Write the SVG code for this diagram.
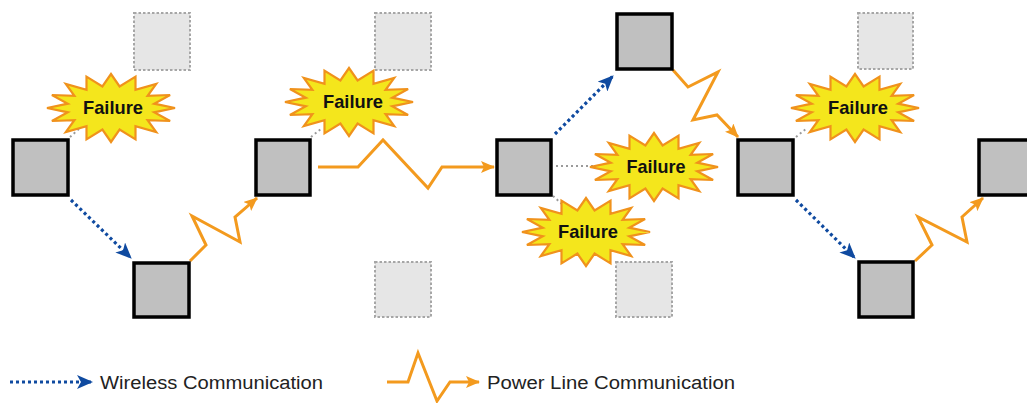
<svg xmlns="http://www.w3.org/2000/svg" width="1027" height="403" viewBox="0 0 1027 403">
<style>
.node{fill:#c0c0c0;stroke:#000;stroke-width:3.5}
.ghost{fill:#e6e6e6;stroke:#a6a6a6;stroke-width:2;stroke-dasharray:2.5 2}
.wl{fill:none;stroke:#0f4aa0;stroke-width:3.2;stroke-dasharray:3 3;marker-end:url(#ab)}
.pl{fill:none;stroke:#f39a1e;stroke-width:3;stroke-linejoin:miter;marker-end:url(#ao)}
.fl{fill:none;stroke:#9a9a9a;stroke-width:2;stroke-dasharray:2 3}
.star{fill:#f4e61c;stroke:#f0921c;stroke-width:2.2;stroke-linejoin:miter}
.ft{font-family:"Liberation Sans",Arial,sans-serif;font-weight:bold;font-size:19px;fill:#111;text-anchor:middle}
.lg{font-family:"Liberation Sans",Arial,sans-serif;font-size:18px;fill:#222}
</style>
<defs>
<marker id="ab" markerUnits="userSpaceOnUse" markerWidth="16" markerHeight="14" viewBox="0 0 16 14" refX="15" refY="7" orient="auto">
<path d="M0,0 L16,7 L0,14 L4,7 z" fill="#0f4aa0"/>
</marker>
<marker id="ao" markerUnits="userSpaceOnUse" markerWidth="14" markerHeight="12" viewBox="0 0 14 12" refX="13" refY="6" orient="auto">
<path d="M0,0 L14,6 L0,12 L3,6 z" fill="#f39a1e"/>
</marker>
<polygon id="burst" class="star" points="64,0 43.2,4.3 59.1,13 36.6,12.2 45.2,24 24.5,18.3 24.5,31.4 8.6,21.6 0,34 -8.6,21.6 -24.5,31.4 -24.5,18.3 -45.2,24 -36.6,12.2 -59.1,13 -43.2,4.3 -64,0 -43.2,-4.3 -59.1,-13 -36.6,-12.2 -45.2,-24 -24.5,-18.3 -24.5,-31.4 -8.6,-21.6 0,-34 8.6,-21.6 24.5,-31.4 24.5,-18.3 45.2,-24 36.6,-12.2 59.1,-13 43.2,-4.3"/>
</defs>
<rect width="1027" height="403" fill="#fff"/>

<g id="ghosts">
<rect id="g1" class="ghost" x="134" y="13" width="56" height="57"/>
<rect id="g2" class="ghost" x="375" y="13" width="56" height="57"/>
<rect id="g3" class="ghost" x="375" y="262" width="56" height="55"/>
<rect id="g4" class="ghost" x="616" y="262" width="56" height="55"/>
<rect id="g5" class="ghost" x="858" y="13" width="55" height="56"/>
</g>

<g id="connectors">
<path class="fl" d="M70,137 L80,128"/>
<path class="fl" d="M311,137 L322,128"/>
<path class="fl" d="M556,166 L600,166"/>
<path class="fl" d="M553,196 L563,205"/>
<path class="fl" d="M796,137 L807,128"/>
<path class="wl" d="M71,200 L131,258"/>
<path class="wl" d="M555,134 L613,76"/>
<path class="wl" d="M796,200 L855,258"/>
<path class="pl" d="M190,261 L206,245 L192,216 L240,242 L235,217 L257,198"/>
<path class="pl" d="M318,167 L358,167 L383,140 L428,188 L442,167 L494,167"/>
<path class="pl" d="M673,70 L688,87 L718,72 L693,120 L717,115 L738,137"/>
<path class="pl" d="M915,261 L932,245 L918,217 L967,242 L962,217 L983,198"/>
</g>

<g id="n1"><rect class="node" x="13" y="140" width="55" height="55"/></g>
<g id="n2"><rect class="node" x="134" y="263" width="55" height="54"/></g>
<g id="n3"><rect class="node" x="256" y="140" width="54" height="55"/></g>
<g id="n4"><rect class="node" x="497" y="140" width="54" height="55"/></g>
<g id="n5"><rect class="node" x="617" y="14" width="55" height="55"/></g>
<g id="n6"><rect class="node" x="738" y="140" width="55" height="55"/></g>
<g id="n7"><rect class="node" x="859" y="262" width="54" height="55"/></g>
<g id="n8"><rect class="node" x="979" y="140" width="55" height="55"/></g>

<g id="f1"><use href="#burst" x="111" y="108"/><text class="ft" x="113" y="114" textLength="60" lengthAdjust="spacingAndGlyphs">Failure</text></g>
<g id="f2"><use href="#burst" x="349" y="102"/><text class="ft" x="353" y="108" textLength="60" lengthAdjust="spacingAndGlyphs">Failure</text></g>
<g id="f3"><use href="#burst" x="654" y="167"/><text class="ft" x="656" y="173" textLength="59" lengthAdjust="spacingAndGlyphs">Failure</text></g>
<g id="f4"><use href="#burst" x="586" y="232"/><text class="ft" x="588" y="238" textLength="60" lengthAdjust="spacingAndGlyphs">Failure</text></g>
<g id="f5"><use href="#burst" x="855" y="108"/><text class="ft" x="858" y="114" textLength="60" lengthAdjust="spacingAndGlyphs">Failure</text></g>

<g id="legend">
<path class="wl" d="M10,382 L92,382"/>
<text class="lg" x="100" y="389" textLength="223" lengthAdjust="spacingAndGlyphs">Wireless Communication</text>
<path class="pl" d="M387,382 L408,382 L418,353 L437,401 L450,382 L479,382"/>
<text class="lg" x="487" y="389" textLength="248" lengthAdjust="spacingAndGlyphs">Power Line Communication</text>
</g>
</svg>
